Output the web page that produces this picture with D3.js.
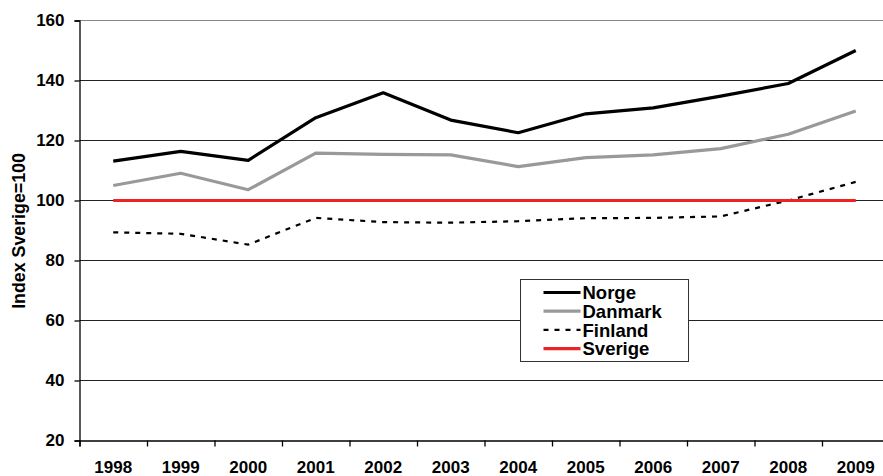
<!DOCTYPE html>
<html>
<head>
<meta charset="utf-8">
<script src="https://cdnjs.cloudflare.com/ajax/libs/d3/7.8.5/d3.min.js"></script>
<style>
  body { margin: 0; background: #fff; }
  svg text { font-family: "Liberation Sans", Arial, sans-serif; font-weight: bold; }
</style>
</head>
<body>
<div id="chart"></div>
<script>
// data
const years = ["1998","1999","2000","2001","2002","2003","2004","2005","2006","2007","2008","2009"];
const norge   = [113.1, 116.4, 113.4, 127.6, 135.9, 126.8, 122.6, 128.9, 130.9, 134.8, 139.0, 150.0];
const danmark = [105.0, 109.1, 103.6, 115.8, 115.4, 115.2, 111.3, 114.3, 115.2, 117.3, 122.1, 129.8];
const finland = [89.4, 88.9, 85.3, 94.2, 92.8, 92.6, 93.1, 94.1, 94.2, 94.7, 100.0, 106.2];
const sverige = [100, 100, 100, 100, 100, 100, 100, 100, 100, 100, 100, 100];
const yTicks = [20, 40, 60, 80, 100, 120, 140, 160];

const series = [
  {name: "Norge",   values: norge,   color: "#000000", width: 3.2, dash: null},
  {name: "Danmark", values: danmark, color: "#999999", width: 3.2, dash: null},
  {name: "Finland", values: finland, color: "#000000", width: 2.2, dash: "5,6"},
  {name: "Sverige", values: sverige, color: "#ee2222", width: 3.2, dash: null}
];

const W = 883, H = 476;
const mLeft = 79.5, mRight = 889.5, mTop = 20.5, mBottom = 440.5;

const svg = d3.select("#chart").append("svg")
  .attr("width", W).attr("height", H);

const x = d3.scaleBand().domain(years).range([mLeft, mRight]);
const y = d3.scaleLinear().domain([20, 160]).range([mBottom, mTop]);

// gridlines
svg.append("g")
  .selectAll("line")
  .data(yTicks.filter(d => d > 20))
  .join("line")
  .attr("x1", mLeft).attr("x2", mRight)
  .attr("y1", d => y(d)).attr("y2", d => y(d))
  .attr("stroke", d => d === 160 ? "#888" : "#222")
  .attr("stroke-width", 1);

// y axis
const yAxis = svg.append("g")
  .attr("transform", `translate(${mLeft},0)`)
  .call(d3.axisLeft(y).tickValues(yTicks).tickSize(5).tickPadding(10));
yAxis.select(".domain").attr("stroke", "#000").attr("stroke-width", 1.3);
yAxis.selectAll(".tick line").attr("stroke", "#000").attr("stroke-width", 1.3);
yAxis.selectAll("text").attr("font-size", 17).attr("fill", "#000")
  .attr("font-family", '"Liberation Sans", Arial, sans-serif');

// x axis: labels at band centres, ticks at band edges
const xAxis = svg.append("g")
  .attr("transform", `translate(0,${mBottom})`)
  .call(d3.axisBottom(x).tickSize(0).tickPadding(20));
xAxis.select(".domain").remove();
xAxis.selectAll("text").attr("font-size", 17).attr("fill", "#000")
  .attr("font-family", '"Liberation Sans", Arial, sans-serif');

const edges = d3.scaleLinear().domain([0, years.length]).range([mLeft, mRight]);
const xTicks = svg.append("g")
  .attr("transform", `translate(0,${mBottom})`)
  .call(d3.axisBottom(edges).tickValues(d3.range(0, years.length + 1)).tickSize(6).tickFormat(""));
xTicks.select(".domain").attr("stroke", "#000").attr("stroke-width", 1.3);
xTicks.selectAll(".tick line").attr("stroke", "#000").attr("stroke-width", 1.3);

// y title
svg.append("text")
  .attr("transform", `translate(25,231) rotate(-90)`)
  .attr("text-anchor", "middle")
  .attr("font-size", 17.8)
  .text("Index Sverige=100");

// lines
const line = d3.line()
  .x((d, i) => x(years[i]) + x.bandwidth() / 2)
  .y(d => y(d));

svg.append("g")
  .selectAll("path")
  .data(series)
  .join("path")
  .attr("d", d => line(d.values))
  .attr("fill", "none")
  .attr("stroke", d => d.color)
  .attr("stroke-width", d => d.width)
  .attr("stroke-dasharray", d => d.dash)
  .attr("stroke-linejoin", "round");

// legend
const lg = svg.append("g").attr("transform", "translate(520.5,279.5)");
lg.append("rect")
  .attr("width", 168).attr("height", 82)
  .attr("fill", "#fff").attr("stroke", "#333").attr("stroke-width", 1);
const rows = lg.selectAll("g.row")
  .data(series)
  .join("g")
  .attr("class", "row")
  .attr("transform", (d, i) => `translate(0,${13 + i * 18.7})`);
rows.append("line")
  .attr("x1", 23).attr("x2", 60)
  .attr("stroke", d => d.color)
  .attr("stroke-width", d => d.width)
  .attr("stroke-dasharray", d => d.dash);
rows.append("text")
  .attr("x", 62).attr("dy", "0.36em")
  .attr("font-size", 18.5)
  .text(d => d.name);
</script>
</body>
</html>
